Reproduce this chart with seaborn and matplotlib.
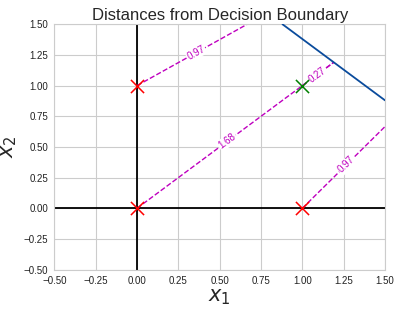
import numpy as np
import pandas as pd
import matplotlib.pyplot as plt
import seaborn as sns

# --- data ---
red_x = [0.0, 0.0, 1.0]
red_y = [0.0, 1.0, 0.0]
green_x = [1.0]
green_y = [1.0]

boundary_x = [0.88, 1.5]
boundary_y = [1.5, 0.88]

# distance segments: start point, drawn direction (deg), distance label
seg_x0 = [0.0, 0.0, 1.0, 1.0]
seg_y0 = [1.0, 0.0, 1.0, 0.0]
seg_angle = [36.9, 45.0, 45.0, 53.1]
seg_dist = [0.97, 1.68, 0.27, 0.97]

ticks = [-0.5, -0.25, 0.0, 0.25, 0.5, 0.75, 1.0, 1.25, 1.5]

# --- style ---
sns.set_style('whitegrid')
plt.rcParams['font.family'] = ['Liberation Sans', 'DejaVu Sans']

fig = plt.figure(figsize=(4.0, 3.09), dpi=100)
ax = fig.add_axes([0.136, 0.1275, 0.8265, 0.7939])
ax.set_xlim(-0.5, 1.5)
ax.set_ylim(-0.5, 1.5)

ax.axhline(0, color='k', lw=1.3, zorder=1)
ax.axvline(0, color='k', lw=1.3, zorder=1)

sns.lineplot(x=boundary_x, y=boundary_y, color='#0a4b9c', lw=1.3, ax=ax, zorder=3)

for x0, y0, ang, d in zip(seg_x0, seg_y0, seg_angle, seg_dist):
    ux, uy = np.cos(np.radians(ang)), np.sin(np.radians(ang))
    seg = pd.DataFrame({'x': [x0, x0 + d * ux], 'y': [y0, y0 + d * uy]})
    sns.lineplot(data=seg, x='x', y='y', color='m', ls='--', lw=1.0, ax=ax, zorder=2)
    t = 0.46 * d
    ax.text(x0 + t * ux, y0 + t * uy, f'{d:.2f}', color='m', fontsize=7,
            rotation=ang, rotation_mode='anchor', transform_rotates_text=True,
            ha='center', va='center',
            bbox=dict(facecolor='white', edgecolor='none', pad=0.6), zorder=4)

sns.scatterplot(x=red_x, y=red_y, marker='x', color='red', s=90, linewidth=1.1, ax=ax, zorder=5)
sns.scatterplot(x=green_x, y=green_y, marker='x', color='green', s=90, linewidth=1.1, ax=ax, zorder=5)

ax.set_xticks(ticks)
ax.set_yticks(ticks)
ax.tick_params(labelsize=7, pad=1, labelcolor='#222222')
ax.set_xlabel('$x_1$', fontsize=15, labelpad=1)
ax.set_ylabel('$x_2$', fontsize=15, labelpad=3)
ax.set_title('Distances from Decision Boundary', fontsize=12, pad=3)

fig.savefig('out.png', dpi=100)
